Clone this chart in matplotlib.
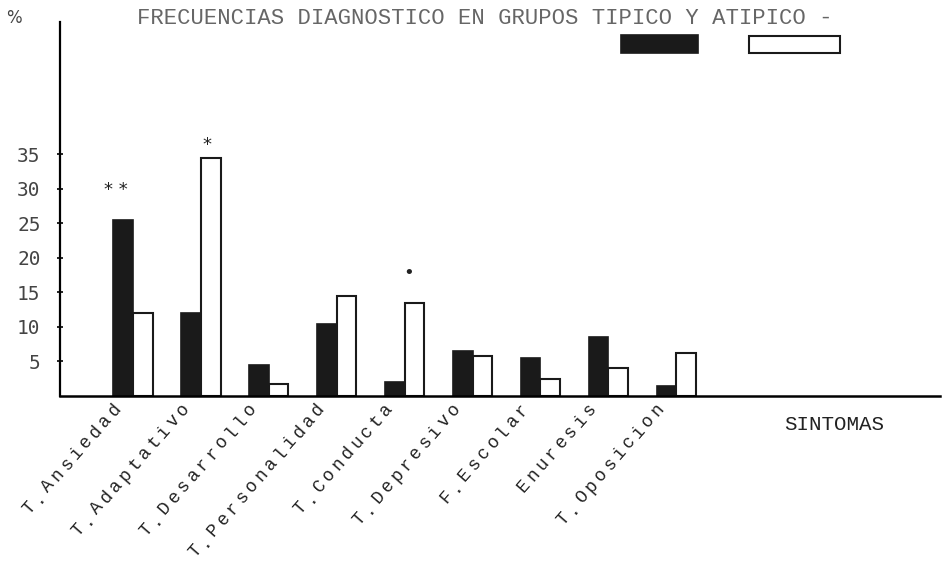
import numpy as np
import matplotlib.pyplot as plt
from matplotlib.patches import Rectangle

# frecuencias (%) por diagnostico
diagnosticos = ['T.Ansiedad', 'T.Adaptativo', 'T.Desarrollo', 'T.Personalidad',
                'T.Conducta', 'T.Depresivo', 'F.Escolar', 'Enuresis', 'T.Oposicion']
tipico = [25.5, 12, 4.5, 10.5, 2, 6.5, 5.5, 8.5, 1.5]
atipico = [12, 34.5, 1.8, 14.5, 13.5, 5.8, 2.5, 4, 6.2]
marcas = ['* *', '*', '', '', '\u2022', '', '', '', '']   # significacion
marca_en = [0, 1, 0, 0, 1, 0, 0, 0, 0]                 # 0 = tipico, 1 = atipico
yticks = [5, 10, 15, 20, 25, 30, 35]

mono = 'Liberation Mono'

fig = plt.figure(figsize=(9.45, 5.65), dpi=100)
ax = fig.add_axes([60 / 945, 169 / 565, 880 / 945, 374 / 565])

x = np.arange(len(diagnosticos))
w = 0.29
ax.bar(x - w / 2, tipico, w, color='#1a1a1a', edgecolor='#1a1a1a', linewidth=1.2)
ax.bar(x + w / 2, atipico, w, color='white', edgecolor='#1a1a1a', linewidth=1.5)

# asteriscos sobre las barras
for i, m in enumerate(marcas):
    if not m:
        continue
    if marca_en[i] == 0:
        ax.text(x[i] - w / 2 - 0.1, tipico[i] + 3, m, ha='center', va='bottom',
                fontsize=13, family='DejaVu Sans', color='#222')
    elif m == '*':
        ax.text(x[i] + w / 2 - 0.05, atipico[i] + 0.5, m, ha='center', va='bottom',
                fontsize=13, family='DejaVu Sans', color='#222')
    else:
        ax.text(x[i] + w / 2 - 0.08, atipico[i] + 3, m, ha='center', va='bottom',
                fontsize=13, family='DejaVu Sans', color='#222')

ax.set_xlim(-1.075, 11.885)
ax.set_ylim(0, 54.2)

for s in ['top', 'right']:
    ax.spines[s].set_visible(False)
ax.spines['left'].set_linewidth(1.6)
ax.spines['bottom'].set_linewidth(1.8)

ax.set_yticks(yticks)
ax.set_yticklabels([str(v) for v in yticks], family='DejaVu Sans Mono',
                   fontsize=14, color='#444')
ax.tick_params(axis='y', direction='inout', length=4, width=1.2, pad=12)
ax.set_xticks([])

# etiquetas inclinadas, letra a letra (espaciado de maquina de escribir)
ang_deg = 49
ang = np.deg2rad(ang_deg)
paso = 10.4  # puntos entre letras
for i, nombre in enumerate(diagnosticos):
    n = len(nombre)
    for k, ch in enumerate(nombre):
        d = (n - 1 - k) * paso
        ax.annotate(ch, xy=(x[i] - 0.22, 0), xycoords=('data', 'axes fraction'),
                    xytext=(-d * np.cos(ang), -d * np.sin(ang) - 12),
                    textcoords='offset points', rotation=ang_deg,
                    ha='center', va='baseline', rotation_mode='anchor',
                    family=mono, fontsize=13, color='#222',
                    annotation_clip=False)

# titulo y textos sueltos
fig.text(485 / 945, 1 - 18 / 565, 'FRECUENCIAS DIAGNOSTICO EN GRUPOS TIPICO Y ATIPICO -',
         ha='center', va='center', family=mono, fontsize=16, color='#666')
fig.text(14 / 945, 1 - 18 / 565, '%', ha='center', va='center',
         family='DejaVu Sans', fontsize=12, color='#444')
fig.text(834 / 945, 1 - 425 / 565, 'SINTOMAS', ha='center', va='center',
         family=mono, fontsize=15, color='#222')

# cuadros de la leyenda
fig.patches.append(Rectangle((621 / 945, 1 - 53 / 565), 77 / 945, 18 / 565,
                             transform=fig.transFigure, facecolor='#1a1a1a',
                             edgecolor='#1a1a1a', linewidth=1.2))
fig.patches.append(Rectangle((749 / 945, 1 - 53 / 565), 91 / 945, 17 / 565,
                             transform=fig.transFigure, facecolor='white',
                             edgecolor='#1a1a1a', linewidth=1.5))

fig.savefig('out.png', dpi=100)
